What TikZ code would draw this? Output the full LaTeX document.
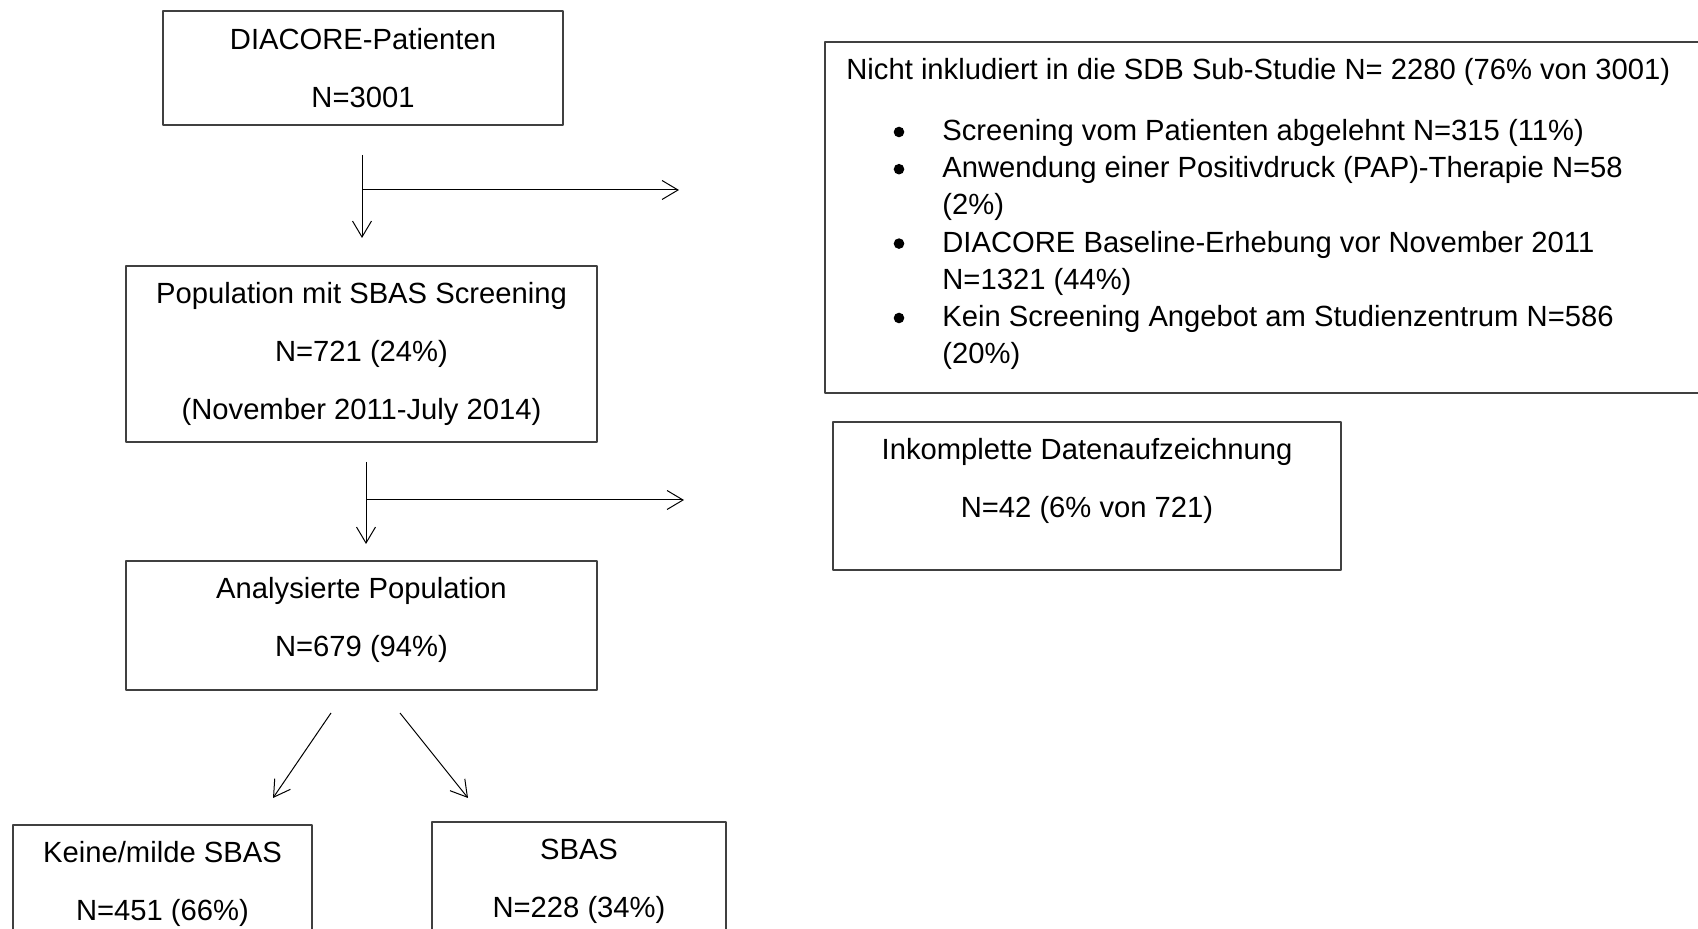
\documentclass[tikz,border=0pt]{standalone}
\usepackage{fontspec}
\setmainfont{Liberation Sans}
\usetikzlibrary{arrows.meta,fit,calc}

\begin{document}
\begin{tikzpicture}[x=0.5pt, y=-0.5pt, line join=round, >={Straight Barb[length=8pt,width=9.5pt]}, font=\fontsize{14.6}{29}\selectfont]
	\tikzset{box/.style={draw=black!75, line width=0.65pt, inner sep=0pt},
		boxtext/.style={align=center, anchor=north, inner sep=0pt},
		pfeil/.style={->, line width=0.5pt}}
	\useasboundingbox (0,0) rectangle (1698,929);
	% linke Spalte
	\node[box, fit={(163,11) (563,125)}] (diacore) {};
	\node[boxtext] (diacore-t) at ($(diacore.north)+(0,18)$) {DIACORE-Patienten\\N=3001};
	\node[box, fit={(126,266) (597,442)}] (screening) {};
	\node[boxtext] (screening-t) at ($(screening.north)+(0,17)$) {Population mit SBAS Screening\\N=721 (24\%)\\(November 2011-July 2014)};
	\node[box, fit={(126,561) (597,690)}] (analyse) {};
	\node[boxtext] (analyse-t) at ($(analyse.north)+(0,17)$) {Analysierte Population\\N=679 (94\%)};
	\node[box, fit={(13,825) (312,945)}] (keine) {};
	\node[boxtext] (keine-t) at ($(keine.north)+(0,17)$) {Keine/milde SBAS\\N=451 (66\%)};
	\node[box, fit={(432,822) (726,945)}] (sbas) {};
	\node[boxtext] (sbas-t) at ($(sbas.north)+(0,17)$) {SBAS\\N=228 (34\%)};
	% rechte Spalte
	\node[box, fit={(825,42) (1715,393)}] (nicht) {};
	\node[anchor=base west, inner sep=0pt] (nicht-titel) at (846,80) {Nicht inkludiert in die SDB Sub-Studie N= 2280 (76\% von 3001)};
	\node[anchor=north west, align=left, inner sep=0pt, font=\fontsize{14.6}{18.6}\selectfont] (nicht-liste) at (942,119) {Screening vom Patienten abgelehnt N=315 (11\%)\\Anwendung einer Positivdruck (PAP)-Therapie N=58\\(2\%)\\DIACORE Baseline-Erhebung vor November 2011\\N=1321 (44\%)\\Kein Screening Angebot am Studienzentrum N=586\\(20\%)};
	\foreach \y in {140,177.2,251.6,326}
	\fill (899,\y-8) circle (5.3);
	\node[box, fit={(833,422) (1341,570)}] (inkompl) {};
	\node[boxtext] (inkompl-t) at ($(inkompl.north)+(0,17)$) {Inkomplette Datenaufzeichnung\\N=42 (6\% von 721)};
	% Pfeile
	\coordinate (p1) at (362,155);
	\coordinate (p1e) at (362,238);
	\coordinate (p1a) at (362,190);
	\coordinate (p1r) at (679,190);
	\coordinate (p2) at (366,462);
	\coordinate (p2e) at (366,544);
	\coordinate (p2a) at (366,500);
	\coordinate (p2r) at (684,500);
	\coordinate (p3l) at (331,713);
	\coordinate (p3le) at (273,798);
	\coordinate (p3r) at (400,713);
	\coordinate (p3re) at (468,798);
	\draw[pfeil] (p1)--(p1e);
	\draw[pfeil] (p1a)--(p1r);
	\draw[pfeil] (p2)--(p2e);
	\draw[pfeil] (p2a)--(p2r);
	\draw[pfeil] (p3l)--(p3le);
	\draw[pfeil] (p3r)--(p3re);
\end{tikzpicture}
\end{document}
